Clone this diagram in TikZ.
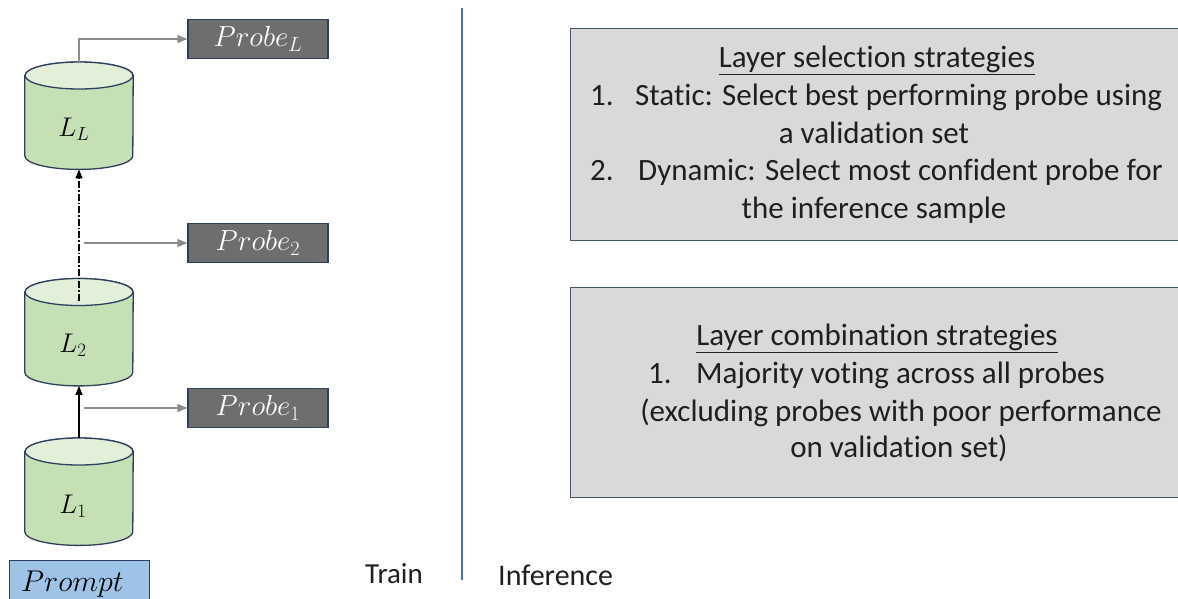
\RequirePackage{fix-cm}
\documentclass[tikz,border=0pt]{standalone}
\usepackage{fontspec}
\setmainfont{Carlito}[Ligatures=NoCommon]
\usetikzlibrary{arrows.meta,calc}
\definecolor{cylbody}{HTML}{C5E0B4}
\definecolor{cyltop}{HTML}{E2F0D9}
\definecolor{navy}{HTML}{2F3F60}
\definecolor{probefill}{HTML}{6E6E6E}
\definecolor{boxfill}{HTML}{D9D9D9}
\definecolor{boxedge}{HTML}{44546A}
\definecolor{promptfill}{HTML}{9DC3E6}
\definecolor{arrowgray}{HTML}{8C8C8C}
\definecolor{divider}{HTML}{4472C4}
\newcommand{\layercyl}[3]{%
  \node[minimum width=108pt, minimum height=107pt, inner sep=0pt, anchor=north] (#1) at (#2,#3) {};
  \filldraw[cylstyle, fill=cylbody]
    ($(#1.north west)+(0,13.5)$) -- ($(#1.south west)+(0,-13.5)$)
    arc[start angle=180, end angle=0, x radius=54, y radius=13.5]
    -- ($(#1.north east)+(0,13.5)$)
    arc[start angle=0, end angle=-180, x radius=54, y radius=13.5] -- cycle;
  \filldraw[cylstyle, fill=cyltop] ($(#1.north)+(0,13.5)$) ellipse[x radius=54, y radius=13.5];
}
\begin{document}
\begin{tikzpicture}[x=1pt,y=-1pt,
  cylstyle/.style={draw=navy, line width=1.3pt},
  layerlabel/.style={inner sep=0pt, font=\fontsize{27}{30}\selectfont},
  probebox/.style={draw=navy, line width=1.3pt, fill=probefill, text=white,
    minimum width=140pt, minimum height=39pt, inner sep=0pt,
    font=\fontsize{29}{32}\selectfont},
  infobox/.style={draw=boxedge, line width=1.3pt, fill=boxfill,
    anchor=north west, inner sep=0pt},
  txt/.style={font=\fontsize{31}{38}\selectfont, inner sep=0pt, text=black!88},
  probearrow/.style={draw=arrowgray, line width=1.4pt,
    -{Triangle[length=10pt,width=8pt]}},
  trunk/.style={draw=black, line width=1.3pt,
    -{Triangle[length=9pt,width=7pt]}},
]
\useasboundingbox (0,0) rectangle (1178,598);

% layers
\layercyl{L1}{79}{438}
\layercyl{L2}{79}{278.5}
\layercyl{LL}{79}{62}
\node[layerlabel] (L1t) at (73,506) {$L_1$};
\node[layerlabel] (L2t) at (73,345) {$L_2$};
\node[layerlabel] (LLt) at (74,129) {$L_L$};

% probes
\node[probebox] (PL) at (258,39) {$Probe_L$};
\node[probebox] (P2) at (258,243) {$Probe_2$};
\node[probebox] (P1) at (258,408) {$Probe_1$};

% prompt
\node[draw=navy, line width=1.3pt, fill=promptfill, anchor=north west,
  minimum width=140pt, minimum height=40pt, inner sep=0pt] (PR) at (9,560) {};
\node[anchor=base west, inner sep=0pt, font=\fontsize{30}{34}\selectfont] (PRT) at (21,591) {$Prompt$};

% connectors
\draw[trunk] (L1.north) -- (L2.south);
\coordinate (dstart) at ($(L2.north)+(0,22)$);
\draw[trunk, dash pattern=on 7pt off 2pt on 1.5pt off 2pt] (dstart) -- (LL.south);
\draw[probearrow] (LL.north) |- (PL.west);
\draw[probearrow] ($(P2.west -| LL.north)+(5,0)$) -- (P2.west);
\draw[probearrow] ($(P1.west -| LL.north)+(5,0)$) -- (P1.west);

% divider
\coordinate (dtop) at (462,8);
\coordinate (dbot) at (462,580);
\draw[divider, line width=1.3pt] (dtop) -- (dbot);
\node[txt, font=\fontsize{29}{34}\selectfont, anchor=base west] (train) at (365,583) {Train};
\node[txt, font=\fontsize{30}{34}\selectfont, anchor=base west] (inf) at (498,585) {Inference};

% info boxes
\node[infobox, minimum width=612pt, minimum height=212pt] (B1) at (570,28) {};
\node[infobox, minimum width=612pt, minimum height=210pt] (B2) at (570,287) {};

\node[txt, anchor=base] (t1) at (877,67) {\underline{Layer selection strategies}};
\node[txt, anchor=base west] (n1) at (590,105) {1.};
\node[txt, anchor=base west] (s1) at (635,105) {Static: Select best performing probe using};
\node[txt, anchor=base] (s1b) at (874,143) {a validation set};
\node[txt, anchor=base west] (n2) at (590,180) {2.};
\node[txt, anchor=base west] (s2) at (638,180) {Dynamic: Select most confident probe for};
\node[txt, anchor=base] (s2b) at (874,218) {the inference sample};

\node[txt, anchor=base] (t2) at (877,345) {\underline{Layer combination strategies}};
\node[txt, anchor=base west] (n3) at (648,383) {1.};
\node[txt, anchor=base west] (c1) at (696,383) {Majority voting across all probes};
\node[txt, anchor=base] (c1b) at (901,421) {(excluding probes with poor performance};
\node[txt, anchor=base] (c1c) at (899,457) {on validation set)};
\end{tikzpicture}
\end{document}
